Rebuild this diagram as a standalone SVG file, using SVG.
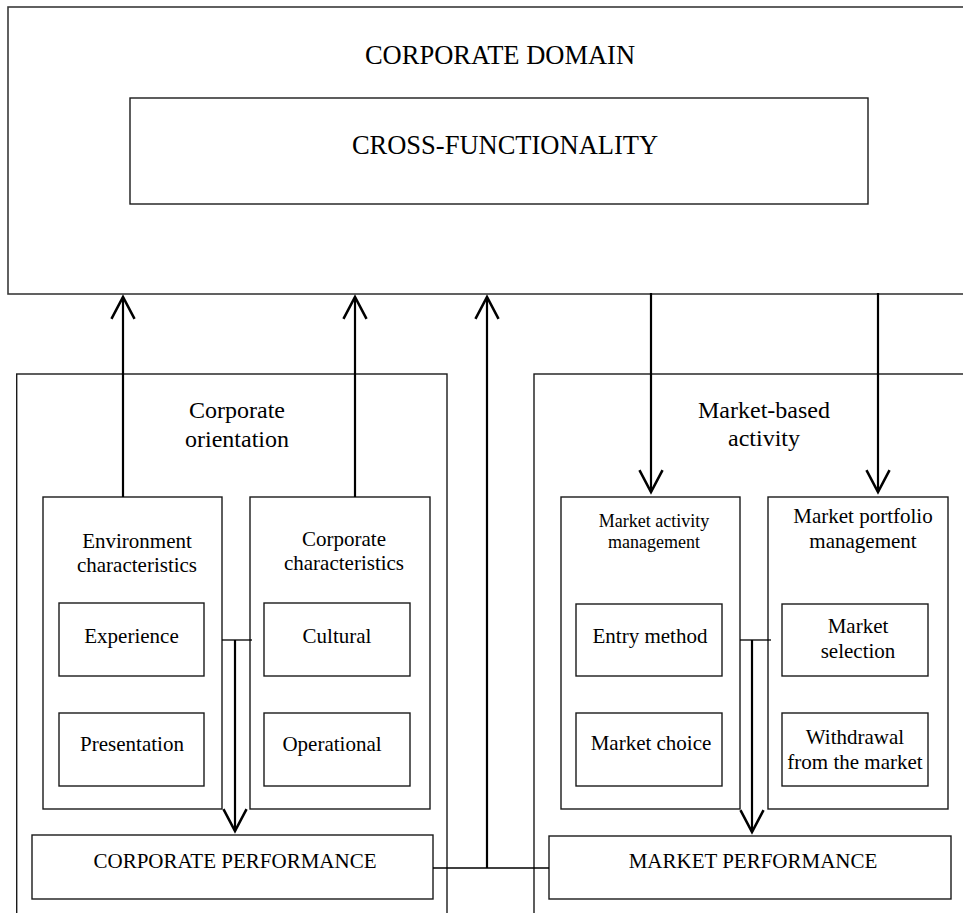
<svg xmlns="http://www.w3.org/2000/svg" width="963" height="913" viewBox="0 0 963 913">
<defs>
<marker id="arr" markerUnits="userSpaceOnUse" markerWidth="30" markerHeight="30" viewBox="-22 -12 26 24" refX="0" refY="0" orient="auto">
<path d="M-19,-10 L0,0 L-19,10" fill="none" stroke="#000" stroke-width="2.2"/>
</marker>
<style>
.box{fill:none;stroke:#1a1a1a;stroke-width:1.4}
.outer{fill:none;stroke:#3a3a3a;stroke-width:1.6}
.t{font-family:"Liberation Serif","Times New Roman",serif;fill:#000;text-anchor:middle}
.big{font-size:26.5px}
.sec{font-size:24px}
.sub{font-size:21px}
.sm{font-size:18px}
.thick{stroke:#000;stroke-width:2.2;fill:none}
.thin{stroke:#000;stroke-width:1.3;fill:none}
</style>
</defs>
<rect width="963" height="913" fill="#fff"/>

<g id="corporate-domain">
<rect class="outer" x="8" y="7" width="970" height="287"/>
<text class="t big" x="500" y="64">CORPORATE DOMAIN</text>
</g>
<g id="cross-functionality">
<rect class="box" x="130" y="98" width="738" height="106"/>
<text class="t big" x="505" y="154">CROSS-FUNCTIONALITY</text>
</g>

<g id="corporate-orientation">
<rect class="box" x="16.7" y="374" width="430.3" height="560"/>
<text class="t sec" x="237" y="418">Corporate</text>
<text class="t sec" x="237" y="447">orientation</text>
</g>
<g id="environment-characteristics">
<rect class="box" x="43" y="497" width="179" height="312"/>
<text class="t sub" x="137" y="548">Environment</text>
<text class="t sub" x="137" y="572">characteristics</text>
</g>
<g id="experience">
<rect class="box" x="59" y="603" width="145" height="73"/>
<text class="t sub" x="131.5" y="643">Experience</text>
</g>
<g id="presentation">
<rect class="box" x="59" y="713" width="145" height="73"/>
<text class="t sub" x="132" y="751">Presentation</text>
</g>
<g id="corporate-characteristics">
<rect class="box" x="250" y="497" width="180" height="312"/>
<text class="t sub" x="344" y="546">Corporate</text>
<text class="t sub" x="344" y="570">characteristics</text>
</g>
<g id="cultural">
<rect class="box" x="264" y="603" width="146" height="73"/>
<text class="t sub" x="337" y="643">Cultural</text>
</g>
<g id="operational">
<rect class="box" x="264" y="713" width="146" height="73"/>
<text class="t sub" x="332" y="751">Operational</text>
</g>
<g id="corporate-performance">
<rect class="box" x="32" y="835" width="401" height="64"/>
<text class="t sub" x="235" y="868">CORPORATE PERFORMANCE</text>
</g>

<g id="market-based-activity">
<rect class="box" x="534" y="374" width="440" height="560"/>
<text class="t sec" x="764" y="418">Market-based</text>
<text class="t sec" x="764" y="446">activity</text>
</g>
<g id="market-activity-management">
<rect class="box" x="561" y="497" width="179" height="312"/>
<text class="t sm" x="654" y="527">Market activity</text>
<text class="t sm" x="654" y="548">management</text>
</g>
<g id="entry-method">
<rect class="box" x="576" y="604" width="146" height="72"/>
<text class="t sub" x="650" y="643">Entry method</text>
</g>
<g id="market-choice">
<rect class="box" x="576" y="713" width="146" height="73"/>
<text class="t sub" x="651" y="750">Market choice</text>
</g>
<g id="market-portfolio-management">
<rect class="box" x="768" y="497" width="180" height="312"/>
<text class="t sub" x="863" y="523">Market portfolio</text>
<text class="t sub" x="863" y="548">management</text>
</g>
<g id="market-selection">
<rect class="box" x="782" y="604" width="146" height="72"/>
<text class="t sub" x="858" y="633">Market</text>
<text class="t sub" x="858" y="658">selection</text>
</g>
<g id="withdrawal">
<rect class="box" x="782" y="713" width="146" height="73"/>
<text class="t sub" x="855" y="744">Withdrawal</text>
<text class="t sub" x="855" y="769">from the market</text>
</g>
<g id="market-performance">
<rect class="box" x="549" y="836" width="402" height="63"/>
<text class="t sub" x="753" y="868">MARKET PERFORMANCE</text>
</g>

<g id="connectors">
<line class="thick" x1="123" y1="497" x2="123" y2="297" marker-end="url(#arr)"/>
<line class="thick" x1="355" y1="497" x2="355" y2="297" marker-end="url(#arr)"/>
<line class="thick" x1="487" y1="868" x2="487" y2="297" marker-end="url(#arr)"/>
<line class="thick" x1="651" y1="293" x2="651" y2="492" marker-end="url(#arr)"/>
<line class="thick" x1="878" y1="293" x2="878" y2="492" marker-end="url(#arr)"/>
<line class="thin" x1="222" y1="640" x2="252" y2="640"/>
<line class="thick" x1="235" y1="640" x2="235" y2="831" marker-end="url(#arr)"/>
<line class="thin" x1="740" y1="640" x2="771" y2="640"/>
<line class="thick" x1="752" y1="640" x2="752" y2="832" marker-end="url(#arr)"/>
<line class="thin" x1="433" y1="868" x2="549" y2="868"/>
</g>
</svg>
